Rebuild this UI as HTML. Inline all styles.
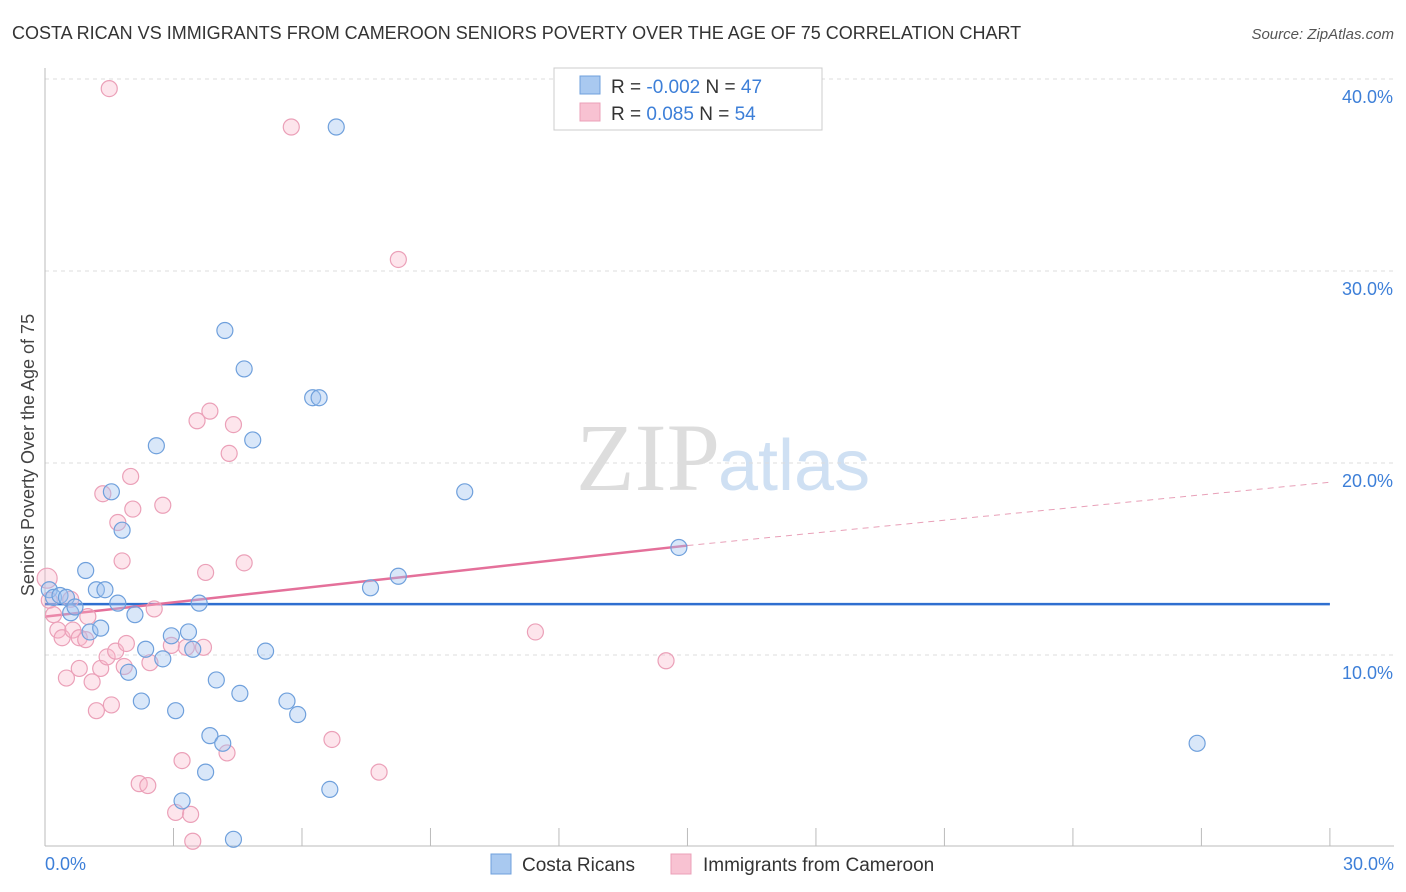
<!DOCTYPE html>
<html><head><meta charset="utf-8"><style>
body{margin:0;background:#fff;font-family:"Liberation Sans",sans-serif;}
svg{display:block}
</style></head><body>
<svg width="1406" height="892" xmlns="http://www.w3.org/2000/svg">
<text x="12" y="39" font-size="18" fill="#333">COSTA RICAN VS IMMIGRANTS FROM CAMEROON SENIORS POVERTY OVER THE AGE OF 75 CORRELATION CHART</text>
<text x="1394" y="39" font-size="15" fill="#555" text-anchor="end" font-style="italic">Source: ZipAtlas.com</text>
<text x="720" y="490" font-size="96" fill="#ddd" text-anchor="end" font-family="Liberation Serif,serif">ZIP</text>
<text x="718" y="490" font-size="72" fill="#cfe0f3">atlas</text>
<g id="grid"></g>
<g id="axes"></g>
<g id="lines"></g>
<g id="pts"></g>
<text transform="translate(34,455) rotate(-90)" font-size="18" fill="#444" text-anchor="middle">Seniors Poverty Over the Age of 75</text>
<text x="45" y="870" font-size="18" fill="#3d7fd8">0.0%</text>
<text x="1394" y="870" font-size="18" fill="#3d7fd8" text-anchor="end">30.0%</text>
<g>
<rect x="554" y="68" width="268" height="62" fill="#fff" stroke="#ccc"/>
<rect x="580" y="76" width="20" height="18" fill="#a9c9f0" stroke="#6fa0dc"/>
<rect x="580" y="103" width="20" height="18" fill="#f8c2d2" stroke="#eba0b8"/>
<text x="611" y="93" font-size="19" fill="#333">R = <tspan fill="#3d7fd8">-0.002</tspan>   N = <tspan fill="#3d7fd8">47</tspan></text>
<text x="611" y="120" font-size="19" fill="#333">R =  <tspan fill="#3d7fd8"> 0.085</tspan>   N = <tspan fill="#3d7fd8">54</tspan></text>
</g>
<g>
<rect x="491" y="854" width="20" height="20" fill="#a9c9f0" stroke="#6fa0dc"/>
<text x="522" y="871" font-size="19" fill="#333">Costa Ricans</text>
<rect x="671" y="854" width="20" height="20" fill="#f8c2d2" stroke="#eba0b8"/>
<text x="703" y="871" font-size="19" fill="#333">Immigrants from Cameroon</text>
</g>
</svg>
<script>
const yTicks=[10,20,30,40];
const yTickLabels=["10.0%","20.0%","30.0%","40.0%"];
const xTicks=[0,3,6,9,12,15,18,21,24,27,30];
const blueX=[0.1,0.2,0.35,0.5,0.6,0.7,0.95,1.05,1.2,1.3,1.4,1.55,1.7,1.8,1.95,2.1,2.25,2.35,2.6,2.75,2.95,3.05,3.35,3.45,3.6,3.75,3.85,4.0,4.15,4.2,4.4,4.55,4.65,4.85,5.15,5.65,5.9,6.25,6.4,6.65,6.8,7.6,8.25,9.8,14.8,26.9,3.2];
const blueY=[13.4,13.0,13.1,13.0,12.2,12.5,14.4,11.2,13.4,11.4,13.4,18.5,12.7,16.5,9.1,12.1,7.6,10.3,20.9,9.8,11.0,7.1,11.2,10.3,12.7,3.9,5.8,8.7,5.4,26.9,0.4,8.0,24.9,21.2,10.2,7.6,6.9,23.4,23.4,3.0,37.5,13.5,14.1,18.5,15.6,5.4,2.4];
const pinkX=[0.05,0.1,0.2,0.3,0.4,0.5,0.6,0.65,0.8,0.8,0.95,1.0,1.1,1.2,1.3,1.35,1.45,1.5,1.55,1.65,1.7,1.8,1.85,1.9,2.0,2.05,2.2,2.4,2.45,2.55,2.75,2.95,3.05,3.2,3.3,3.4,3.45,3.55,3.7,3.75,3.85,4.25,4.3,4.4,4.65,5.75,6.7,7.8,8.25,11.45,14.5];
const pinkY=[14.0,12.85,12.1,11.3,10.9,8.8,12.9,11.3,9.3,10.9,10.8,12.0,8.6,7.1,9.3,18.4,9.9,39.5,7.4,10.2,16.9,14.9,9.4,10.6,19.3,17.6,3.3,3.2,9.6,12.4,17.8,10.5,1.8,4.5,10.4,1.7,0.3,22.2,10.4,14.3,22.7,4.9,20.5,22.0,14.8,37.5,5.6,3.9,30.6,11.2,9.7];
const blueFit=[12.65,12.65], pinkFit=[12.0,15.7,19.0]; // at x=0, 15, 30
const X=v=>45+v*42.83, Y=v=>847-v*19.2;
const NS="http://www.w3.org/2000/svg";
function mk(p,t,a){const e=document.createElementNS(NS,t);for(const k in a)e.setAttribute(k,a[k]);document.getElementById(p).appendChild(e);return e;}
yTicks.forEach((t,i)=>{
 const l=mk('grid','line',{x1:45,x2:1394,y1:Y(t),y2:Y(t),stroke:'#ddd','stroke-dasharray':'4,4'});
 
 
 const tx=mk('grid','text',{x:1393,y:Y(t)+24,'font-size':18,fill:'#3d7fd8','text-anchor':'end'});
 tx.textContent=yTickLabels[i];
 
 
});
const ax=mk('axes','line',{x1:45,x2:45,y1:68,y2:846,stroke:'#bbb'});


const bx=mk('axes','line',{x1:45,x2:1394,y1:846,y2:846,stroke:'#bbb'});


xTicks.forEach(t=>{const e=mk('axes','line',{x1:X(t),x2:X(t),y1:828,y2:846,stroke:'#bbb'});
 
 });
function dots(xs,ys,fill,stroke,name){xs.forEach((x,i)=>{const c=mk('pts','circle',{cx:X(x),cy:Y(ys[i]),r:i==0&&name=='pink-point'?10:8,fill:fill,stroke:stroke,'stroke-width':1.2});
 
 });}
dots(pinkX,pinkY,'rgba(248,180,200,0.35)','#eba0b8','pink-point');
dots(blueX,blueY,'rgba(160,196,240,0.4)','#6fa0dc','blue-point');
let l1=mk('lines','line',{x1:X(0),y1:Y(blueFit[0]),x2:X(30),y2:Y(blueFit[1]),stroke:'#2f6fd0','stroke-width':2.5});


let l2=mk('lines','line',{x1:X(0),y1:Y(pinkFit[0]),x2:X(15),y2:Y(pinkFit[1]),stroke:'#e4709a','stroke-width':2.5});


let l3=mk('lines','line',{x1:X(15),y1:Y(pinkFit[1]),x2:X(30),y2:Y(pinkFit[2]),stroke:'#e8a0b8','stroke-width':1,'stroke-dasharray':'6,5'});


</script>
</body></html>
